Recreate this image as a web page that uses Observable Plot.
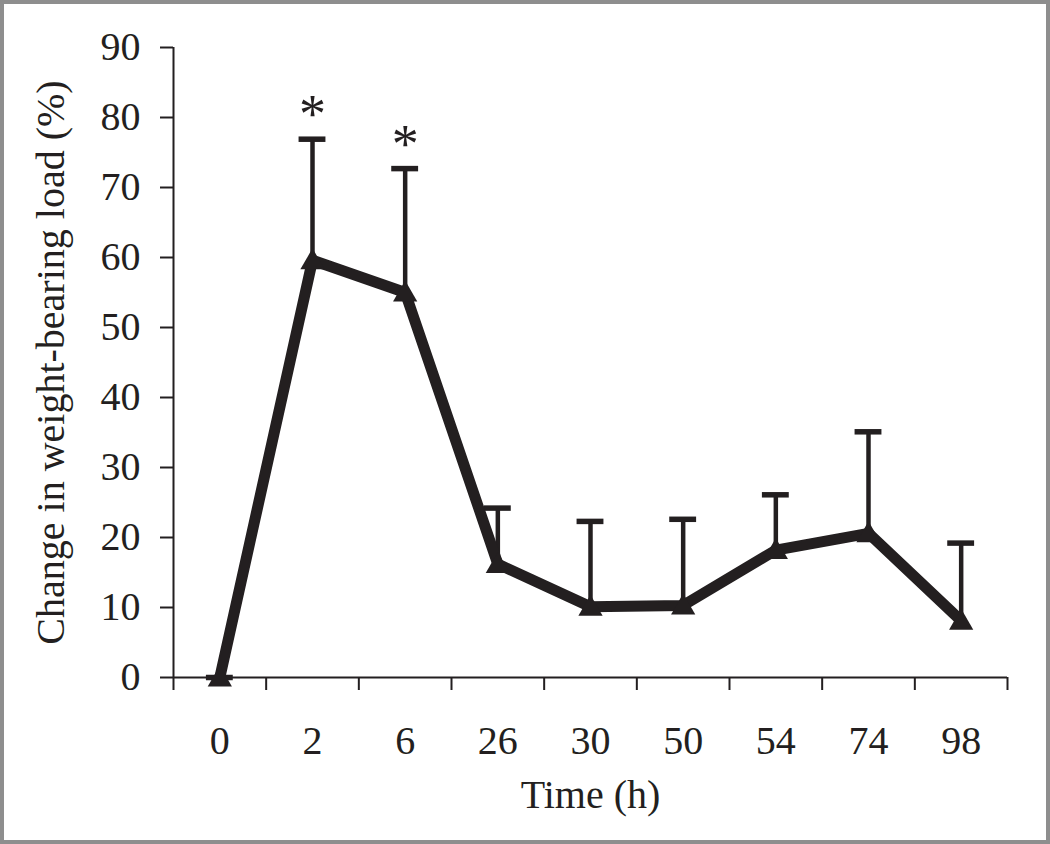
<!DOCTYPE html>
<html>
<head>
<meta charset="utf-8">
<script src="https://cdn.jsdelivr.net/npm/d3@7"></script>
<script src="https://cdn.jsdelivr.net/npm/@observablehq/plot@0.6"></script>
<style>
  html, body { margin: 0; padding: 0; background: #fff; }
  #wrap { position: relative; width: 1050px; height: 844px; overflow: hidden; }
  #border { position: absolute; left: 0; top: 0; width: 1050px; height: 844px; box-sizing: border-box; border: 4px solid #8e8e8e; pointer-events: none; }
  svg { display: block; }
</style>
</head>
<body>
<div id="wrap"><div id="chart"></div><div id="border"></div></div>
<script>
const times = ["0", "2", "6", "26", "30", "50", "54", "74", "98"];
const means = [0, 59.6, 55.0, 16.2, 10.1, 10.3, 18.2, 20.6, 8.1];
const errors = [0, 17.3, 17.7, 8.0, 12.2, 12.3, 7.9, 14.5, 11.1];
const significant = [false, true, true, false, false, false, false, false, false];
const yTicks = [0, 10, 20, 30, 40, 50, 60, 70, 80, 90];

const ink = "#231f20";
const capHalf = 0.145;

const data = times.map((t, i) => ({
  t, xi: i + 0.5, mean: means[i], upper: means[i] + errors[i], sig: significant[i]
}));

const chart = Plot.plot({
  width: 1050,
  height: 844,
  marginLeft: 173,
  marginRight: 43,
  marginTop: 47,
  marginBottom: 167,
  style: { fontFamily: "'Liberation Serif', 'Times New Roman', serif", color: ink, background: "transparent", fontSize: "40px" },
  x: { type: "linear", domain: [0, times.length] },
  y: { domain: [0, 90] },
  marks: [
    Plot.axisY({ ticks: yTicks, tickSize: 13, tickPadding: 20, fontSize: 40, stroke: ink, strokeWidth: 2, strokeOpacity: 1,
      label: "Change in weight-bearing load (%)", labelAnchor: "center", labelArrow: "none", labelOffset: 138 }),
    Plot.axisX({ ticks: d3.range(times.length + 1), tickFormat: () => "", tickSize: 13, stroke: ink, strokeWidth: 2, strokeOpacity: 1, label: null }),
    Plot.axisX({ ticks: data.map(d => d.xi), tickFormat: (v) => times[Math.floor(v)], tickSize: 0, tickPadding: 48, fontSize: 40,
      label: "Time (h)", labelAnchor: "center", labelArrow: "none", labelOffset: 130 }),
    Plot.ruleX([0], { y1: 0, y2: 90, stroke: ink, strokeWidth: 2 }),
    Plot.ruleY([0], { stroke: ink, strokeWidth: 2 }),
    Plot.ruleX(data, { x: "xi", y1: "mean", y2: "upper", stroke: ink, strokeWidth: 4.5 }),
    Plot.ruleY(data, { y: "upper", x1: d => d.xi - capHalf, x2: d => d.xi + capHalf, stroke: ink, strokeWidth: 5.5 }),
    Plot.line(data, { x: "xi", y: "mean", stroke: ink, strokeWidth: 11, strokeLinejoin: "miter" }),
    Plot.dot(data, { x: "xi", y: "mean", symbol: "triangle", r: 9, fill: ink, dy: 2 }),
    Plot.text(data.filter(d => d.sig), { x: "xi", y: "upper", text: () => "*", fontSize: 54, dy: -24, fill: ink, lineAnchor: "middle" })
  ]
});
document.getElementById("chart").appendChild(chart);
</script>
</body>
</html>
